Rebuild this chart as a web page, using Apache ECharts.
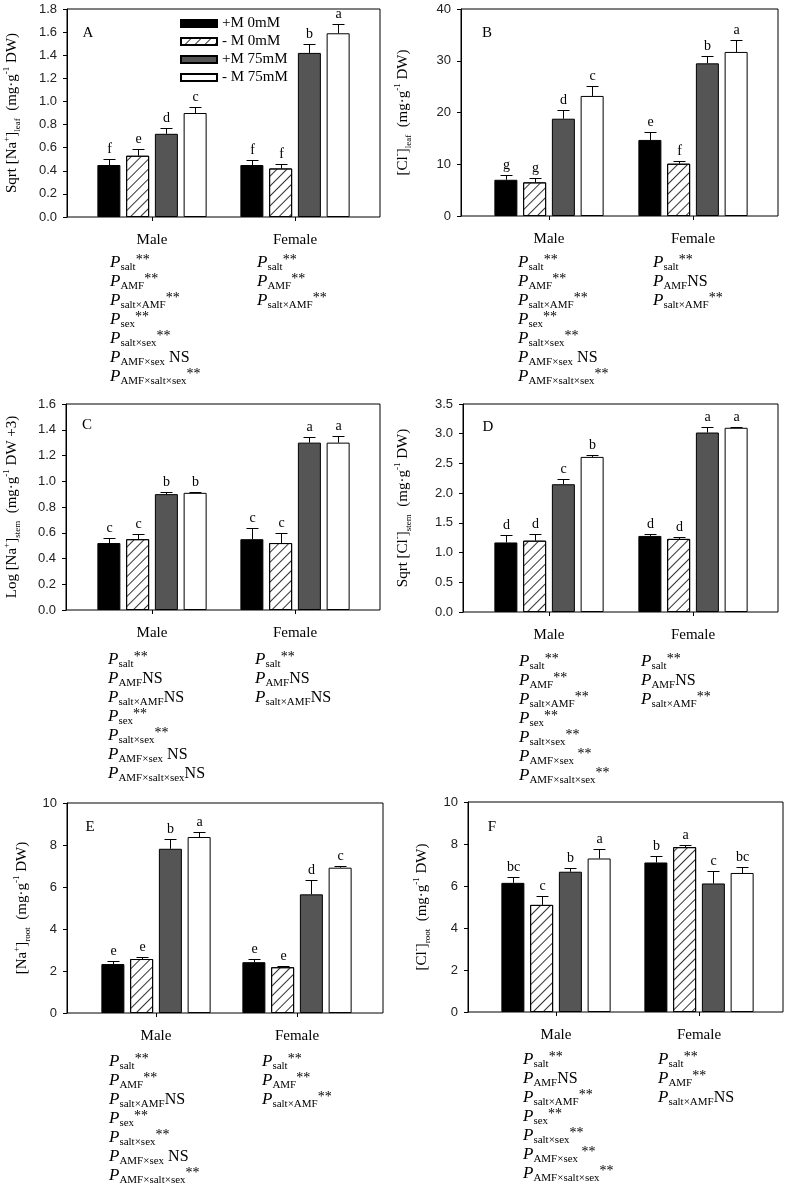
<!DOCTYPE html>
<html lang="en">
<head>
    <meta charset="UTF-8">
    <title>Na+ and Cl- content</title>
    <script src="https://cdn.jsdelivr.net/npm/echarts@6/dist/echarts.min.js"></script>
    <style>
        html, body { margin: 0; padding: 0; background: #fff; }
        #main { width: 787px; height: 1192px; }
    </style>
</head>
<body>
<div id="main"></div>
<script>
    var groups = ['Male', 'Female'];
    var treatments = ['+M 0mM', '- M 0mM', '+M 75mM', '- M 75mM'];

    // rows = treatment, columns = [Male, Female]
    // A  Sqrt [Na+] leaf
    var naLeafMean = [[0.45, 0.45], [0.53, 0.42], [0.72, 1.42], [0.90, 1.59]];
    var naLeafErr  = [[0.05, 0.04], [0.06, 0.04], [0.05, 0.08], [0.05, 0.08]];
    var naLeafSig  = [['f', 'f'], ['e', 'f'], ['d', 'b'], ['c', 'a']];
    // B  [Cl-] leaf
    var clLeafMean = [[7.0, 14.7], [6.5, 10.1], [18.8, 29.5], [23.2, 31.7]];
    var clLeafErr  = [[1.0, 1.6], [0.8, 0.6], [1.6, 1.4], [2.0, 2.3]];
    var clLeafSig  = [['g', 'e'], ['g', 'f'], ['d', 'b'], ['c', 'a']];
    // C  Log [Na+] stem
    var naStemMean = [[0.52, 0.55], [0.55, 0.52], [0.90, 1.30], [0.91, 1.30]];
    var naStemErr  = [[0.04, 0.09], [0.04, 0.08], [0.02, 0.04], [0.01, 0.05]];
    var naStemSig  = [['c', 'c'], ['c', 'c'], ['b', 'a'], ['b', 'a']];
    // D  Sqrt [Cl-] stem
    var clStemMean = [[1.17, 1.28], [1.20, 1.23], [2.15, 3.02], [2.61, 3.10]];
    var clStemErr  = [[0.12, 0.03], [0.12, 0.04], [0.08, 0.09], [0.04, 0.01]];
    var clStemSig  = [['d', 'd'], ['d', 'd'], ['c', 'a'], ['b', 'a']];
    // E  [Na+] root
    var naRootMean = [[2.33, 2.42], [2.57, 2.18], [7.82, 5.65], [8.38, 6.92]];
    var naRootErr  = [[0.16, 0.17], [0.10, 0.07], [0.46, 0.70], [0.24, 0.08]];
    var naRootSig  = [['e', 'e'], ['e', 'e'], ['b', 'd'], ['a', 'c']];
    // F  [Cl-] root
    var clRootMean = [[6.15, 7.12], [5.10, 7.85], [6.68, 6.12], [7.31, 6.62]];
    var clRootErr  = [[0.30, 0.29], [0.44, 0.12], [0.16, 0.59], [0.45, 0.28]];
    var clRootSig  = [['bc', 'b'], ['c', 'a'], ['b', 'c'], ['a', 'bc']];

    // ANOVA results printed below each panel
    var termsMale   = ['salt', 'AMF', 'salt\u00d7AMF', 'sex', 'salt\u00d7sex', 'AMF\u00d7sex', 'AMF\u00d7salt\u00d7sex'];
    var termsFemale = ['salt', 'AMF', 'salt\u00d7AMF'];
    var naLeafStatM = ['**', '**', '**', '**', '**', 'NS', '**'];
    var naLeafStatF = ['**', '**', '**'];
    var clLeafStatM = ['**', '**', '**', '**', '**', 'NS', '**'];
    var clLeafStatF = ['**', 'NS', '**'];
    var naStemStatM = ['**', 'NS', 'NS', '**', '**', 'NS', 'NS'];
    var naStemStatF = ['**', 'NS', 'NS'];
    var clStemStatM = ['**', '**', '**', '**', '**', '**', '**'];
    var clStemStatF = ['**', 'NS', '**'];
    var naRootStatM = ['**', '**', 'NS', '**', '**', 'NS', '**'];
    var naRootStatF = ['**', '**', '**'];
    var clRootStatM = ['**', 'NS', '**', '**', '**', '**', '**'];
    var clRootStatF = ['**', '**', 'NS'];

    var BAR_W = 23;
    var PITCH = BAR_W * 1.25;
    var CAP = 12;
    var SERIF = '"Liberation Serif", "Times New Roman", serif';

    var panels = [
        {tag: 'A', mean: naLeafMean, err: naLeafErr, sig: naLeafSig, max: 1.8, step: 0.2, dec: 1,
         title: '{t|Sqrt [Na}{sp|+}{t|]}{sb|leaf}{t|  (mg\u00b7g}{sp|-1}{t| DW)}',
         frame: [67, 9, 380, 217], cat: [80.5, 366.5], nameGap: 45,
         statM: naLeafStatM, statF: naLeafStatF, statPos: [110, 257, 253], tagPos: [88, 33]},
        {tag: 'B', mean: clLeafMean, err: clLeafErr, sig: clLeafSig, max: 40, step: 10, dec: 0,
         title: '{t|[Cl}{sp|-}{t|]}{sb|leaf}{t|  (mg\u00b7g}{sp|-1}{t| DW)}',
         frame: [461, 9, 778, 216], cat: [477, 765], nameGap: 48,
         statM: clLeafStatM, statF: clLeafStatF, statPos: [518, 653, 253], tagPos: [487, 33]},
        {tag: 'C', mean: naStemMean, err: naStemErr, sig: naStemSig, max: 1.6, step: 0.2, dec: 1,
         title: '{t|Log [Na}{sp|+}{t|]}{sb|stem}{t|  (mg\u00b7g}{sp|-1}{t| DW +3)}',
         frame: [66, 404, 380, 610], cat: [80.5, 366.5], nameGap: 44,
         statM: naStemStatM, statF: naStemStatF, statPos: [108, 255, 650], tagPos: [87, 425]},
        {tag: 'D', mean: clStemMean, err: clStemErr, sig: clStemSig, max: 3.5, step: 0.5, dec: 1,
         title: '{t|Sqrt [Cl}{sp|-}{t|]}{sb|stem}{t|  (mg\u00b7g}{sp|-1}{t| DW)}',
         frame: [463, 404, 778, 612], cat: [477, 765], nameGap: 50,
         statM: clStemStatM, statF: clStemStatF, statPos: [519, 641, 652], tagPos: [488, 427]},
        {tag: 'E', mean: naRootMean, err: naRootErr, sig: naRootSig, max: 10, step: 2, dec: 0,
         title: '{t|[Na}{sp|+}{t|]}{sb|root}{t|  (mg\u00b7g}{sp|-1}{t| DW)}',
         frame: [67, 803, 383, 1013], cat: [85.5, 367.5], nameGap: 35,
         statM: naRootStatM, statF: naRootStatF, statPos: [109, 262, 1052], tagPos: [90, 827]},
        {tag: 'F', mean: clRootMean, err: clRootErr, sig: clRootSig, max: 10, step: 2, dec: 0,
         title: '{t|[Cl}{sp|-}{t|]}{sb|root}{t|  (mg\u00b7g}{sp|-1}{t| DW)}',
         frame: [468, 802, 783, 1012], cat: [484.5, 770.5], nameGap: 36,
         statM: clRootStatM, statF: clRootStatF, statPos: [523, 658, 1050], tagPos: [492, 827]}
    ];

    var barStyles = [
        {color: '#000', borderColor: '#000', borderWidth: 1},
        {color: '#fff', borderColor: '#000', borderWidth: 1,
         decal: {symbol: 'rect', symbolSize: 1, dashArrayX: [[1, 0]], dashArrayY: [1, 6],
                 rotation: -Math.PI / 4, color: '#333', backgroundColor: null}},
        {color: '#555', borderColor: '#000', borderWidth: 1},
        {color: '#fff', borderColor: '#000', borderWidth: 1}
    ];

    var titleRich = {
        t: {fontFamily: SERIF, fontSize: 15, color: '#000', lineHeight: 20},
        sp: {fontFamily: SERIF, fontSize: 9, color: '#000', verticalAlign: 'top', lineHeight: 12},
        sb: {fontFamily: SERIF, fontSize: 9, color: '#000', verticalAlign: 'bottom', lineHeight: 12}
    };
    var statRich = {
        p: {fontFamily: SERIF, fontStyle: 'italic', fontSize: 17, color: '#000', lineHeight: 20},
        s: {fontFamily: SERIF, fontSize: 11, color: '#000', verticalAlign: 'bottom', lineHeight: 12},
        a: {fontFamily: SERIF, fontSize: 14, color: '#000', verticalAlign: 'top', lineHeight: 13},
        n: {fontFamily: SERIF, fontSize: 16, color: '#000', lineHeight: 20}
    };

    function statText(term, mark) {
        var gap = term === 'AMF\u00d7sex' ? ' ' : '';
        return '{p|P}{s|' + term + '}' + (mark === 'NS' ? '{n|' + gap + 'NS}' : '{a|' + gap + '**}');
    }

    function errorRender(letters) {
        return function (params, api) {
            var cat = api.value(0);
            var t = api.value(3);
            var base = api.coord([cat, api.value(1)]);
            var top = api.coord([cat, api.value(2)]);
            var x = Math.round(base[0] + (t - 1.5) * PITCH) + 0.5;
            var yt = Math.round(top[1]) + 0.5;
            return {
                type: 'group',
                children: [
                    {type: 'line', shape: {x1: x, y1: base[1], x2: x, y2: yt}, style: {stroke: '#000', lineWidth: 1}},
                    {type: 'line', shape: {x1: x - CAP / 2, y1: yt, x2: x + CAP / 2, y2: yt}, style: {stroke: '#000', lineWidth: 1}},
                    {type: 'text', x: x, y: yt - 3, style: {text: letters[params.dataIndex], textAlign: 'center',
                        textVerticalAlign: 'bottom', verticalAlign: 'bottom', font: '14px ' + SERIF, fill: '#000'}}
                ]
            };
        };
    }

    var grid = [], xAxis = [], yAxis = [], series = [], graphic = [];

    panels.forEach(function (p, i) {
        var f = p.frame;
        var h = f[3] - f[1];
        // frame grid carries the value axis and the box
        grid.push({left: f[0], top: f[1], width: f[2] - f[0], height: h, show: true,
            borderColor: '#000', borderWidth: 1, backgroundColor: 'transparent', outerBoundsMode: 'none'});
        // bar grid, one band per sex
        grid.push({left: p.cat[0], top: f[1], width: p.cat[1] - p.cat[0], height: h, outerBoundsMode: 'none'});

        xAxis.push({gridIndex: 2 * i, type: 'value', min: 0, max: 1, show: false});
        xAxis.push({gridIndex: 2 * i + 1, type: 'category', data: groups,
            axisLine: {show: false},
            axisTick: {show: true, alignWithLabel: true, length: 4, lineStyle: {color: '#000'}},
            axisLabel: {margin: 16, fontFamily: SERIF, fontSize: 15, color: '#000'},
            splitLine: {show: false}});

        yAxis.push({gridIndex: 2 * i, type: 'value', min: 0, max: p.max, interval: p.step,
            name: p.title, nameLocation: 'middle', nameRotate: 90, nameGap: p.nameGap,
            nameTextStyle: {rich: titleRich},
            axisLine: {show: true, lineStyle: {color: '#000'}},
            axisTick: {show: true, length: 4, lineStyle: {color: '#000'}},
            axisLabel: {margin: 10, fontFamily: '"Liberation Sans", Arial, sans-serif', fontSize: 13, color: '#222',
                formatter: (function (d) { return function (v) { return v.toFixed(d); }; })(p.dec)},
            splitLine: {show: false}});
        yAxis.push({gridIndex: 2 * i + 1, type: 'value', min: 0, max: p.max, interval: p.step, show: false});

        var errData = [], letters = [];
        treatments.forEach(function (name, t) {
            series.push({
                name: name, type: 'bar', xAxisIndex: 2 * i + 1, yAxisIndex: 2 * i + 1,
                barWidth: BAR_W, barGap: '25%', itemStyle: barStyles[t],
                data: p.mean[t], silent: true
            });
            for (var c = 0; c < groups.length; c++) {
                errData.push([c, p.mean[t][c], p.mean[t][c] + p.err[t][c], t]);
                letters.push(p.sig[t][c]);
            }
        });
        series.push({
            type: 'custom', name: 'err' + p.tag, xAxisIndex: 2 * i + 1, yAxisIndex: 2 * i + 1,
            renderItem: errorRender(letters), encode: {x: 0, y: [1, 2]}, data: errData, z: 5, silent: true
        });

        graphic.push({type: 'text', x: p.tagPos[0], y: p.tagPos[1],
            style: {text: p.tag, font: '15px ' + SERIF, fill: '#000', textAlign: 'center', textVerticalAlign: 'middle', verticalAlign: 'middle'}});

        termsMale.forEach(function (term, k) {
            graphic.push({type: 'text', x: p.statPos[0], y: p.statPos[2] + k * 19,
                style: {text: statText(term, p.statM[k]), rich: statRich, textVerticalAlign: 'top', verticalAlign: 'top'}});
        });
        termsFemale.forEach(function (term, k) {
            graphic.push({type: 'text', x: p.statPos[1], y: p.statPos[2] + k * 19,
                style: {text: statText(term, p.statF[k]), rich: statRich, textVerticalAlign: 'top', verticalAlign: 'top'}});
        });
    });

    var myChart = echarts.init(document.getElementById('main'));
    myChart.setOption({
        animation: false,
        backgroundColor: '#fff',
        legend: {
            data: treatments, orient: 'vertical', left: 180, top: 15, padding: 0,
            itemWidth: 36, itemHeight: 7, itemGap: 1, icon: 'rect',
            textStyle: {fontFamily: SERIF, fontSize: 15, color: '#000', lineHeight: 17}
        },
        grid: grid,
        xAxis: xAxis,
        yAxis: yAxis,
        series: series,
        graphic: graphic
    });
</script>
</body>
</html>
